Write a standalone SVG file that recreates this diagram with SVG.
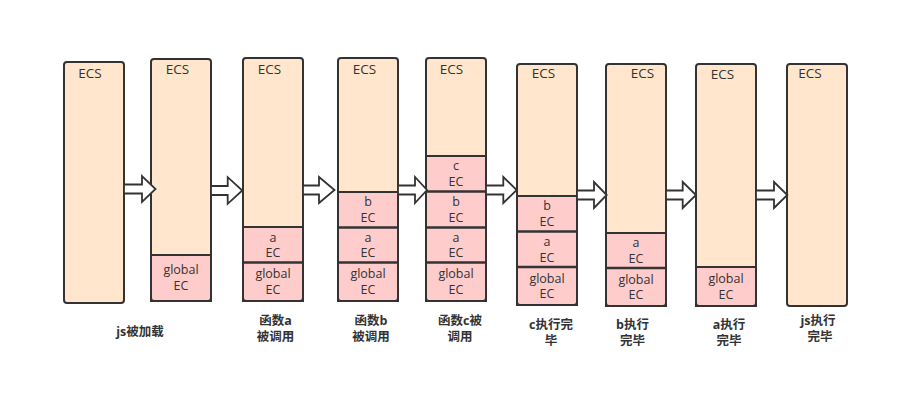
<svg xmlns="http://www.w3.org/2000/svg" width="916" height="415" viewBox="0 0 916 415">
<style>
.ecs{fill:#FFE6CC;stroke:none}
.frame{fill:none;stroke:#333333;stroke-width:2}
.ec{fill:#FFCCCC;stroke:#333333;stroke-width:2}
.div{stroke:#333333;stroke-width:2.5}
.t{font-family:"Open Sans","Noto Sans CJK SC",sans-serif;font-size:13.5px;fill:#333333}
.e{font-family:"Open Sans","Noto Sans CJK SC",sans-serif;font-size:12.5px;fill:#333333;text-anchor:middle}
.lb{font-family:"Open Sans","Noto Sans CJK SC",sans-serif;font-size:12.5px;font-weight:bold;fill:#333333;text-anchor:middle}
.arr{fill:#ffffff;stroke:#333333;stroke-width:1.8;stroke-linejoin:miter}
</style>
<rect width="916" height="415" fill="#ffffff"/>

<g id="stack1">
<rect class="ecs" x="64" y="62" width="60" height="241" rx="3"/>
<rect class="frame" x="64" y="62" width="60" height="241" rx="3"/>
<text class="t" x="90" y="78" text-anchor="middle">ECS</text>
</g>

<g id="stack2">
<rect class="ecs" x="151" y="59" width="60" height="242" rx="3"/>
<rect class="ec" x="151" y="255" width="60" height="46"/>
<rect class="frame" x="151" y="59" width="60" height="242" rx="3"/>
<text class="t" x="177.5" y="73.5" text-anchor="middle">ECS</text>
<text class="e" x="181" y="274">global</text><text class="e" x="181" y="289.5">EC</text>
</g>

<g id="stack3">
<rect class="ecs" x="243" y="58" width="60" height="243" rx="3"/>
<rect class="ec" x="243" y="227" width="60" height="74"/>
<line class="div" x1="243" y1="262.5" x2="303" y2="262.5"/>
<rect class="frame" x="243" y="58" width="60" height="243" rx="3"/>
<text class="t" x="269.5" y="73.5" text-anchor="middle">ECS</text>
<text class="e" x="273" y="241.5">a</text><text class="e" x="273" y="257">EC</text>
<text class="e" x="273" y="278">global</text><text class="e" x="273" y="293.5">EC</text>
</g>

<g id="stack4">
<rect class="ecs" x="338" y="58" width="60" height="243" rx="3"/>
<rect class="ec" x="338" y="192" width="60" height="109"/>
<line class="div" x1="338" y1="227.5" x2="398" y2="227.5"/>
<line class="div" x1="338" y1="262.5" x2="398" y2="262.5"/>
<rect class="frame" x="338" y="58" width="60" height="243" rx="3"/>
<text class="t" x="364.5" y="73.5" text-anchor="middle">ECS</text>
<text class="e" x="368" y="206">b</text><text class="e" x="368" y="221.5">EC</text>
<text class="e" x="368" y="241.5">a</text><text class="e" x="368" y="257">EC</text>
<text class="e" x="368" y="278">global</text><text class="e" x="368" y="293.5">EC</text>
</g>

<g id="stack5">
<rect class="ecs" x="426" y="58" width="60" height="243" rx="3"/>
<rect class="ec" x="426" y="156" width="60" height="145"/>
<line class="div" x1="426" y1="191.5" x2="486" y2="191.5"/>
<line class="div" x1="426" y1="227.5" x2="486" y2="227.5"/>
<line class="div" x1="426" y1="262.5" x2="486" y2="262.5"/>
<rect class="frame" x="426" y="58" width="60" height="243" rx="3"/>
<text class="t" x="451.5" y="73.5" text-anchor="middle">ECS</text>
<text class="e" x="456" y="170">c</text><text class="e" x="456" y="186">EC</text>
<text class="e" x="456" y="206">b</text><text class="e" x="456" y="221.5">EC</text>
<text class="e" x="456" y="241.5">a</text><text class="e" x="456" y="257">EC</text>
<text class="e" x="456" y="278">global</text><text class="e" x="456" y="293.5">EC</text>
</g>

<g id="stack6">
<rect class="ecs" x="517" y="64" width="60" height="241" rx="3"/>
<rect class="ec" x="517" y="196" width="60" height="109"/>
<line class="div" x1="517" y1="231.5" x2="577" y2="231.5"/>
<line class="div" x1="517" y1="267" x2="577" y2="267"/>
<rect class="frame" x="517" y="64" width="60" height="241" rx="3"/>
<text class="t" x="543.5" y="77.5" text-anchor="middle">ECS</text>
<text class="e" x="547" y="210">b</text><text class="e" x="547" y="225.5">EC</text>
<text class="e" x="547" y="246">a</text><text class="e" x="547" y="261.5">EC</text>
<text class="e" x="547" y="282.5">global</text><text class="e" x="547" y="298">EC</text>
</g>

<g id="stack7">
<rect class="ecs" x="606" y="64" width="60" height="242" rx="3"/>
<rect class="ec" x="606" y="233" width="60" height="73"/>
<line class="div" x1="606" y1="268" x2="666" y2="268"/>
<rect class="frame" x="606" y="64" width="60" height="242" rx="3"/>
<text class="t" x="642.5" y="77.5" text-anchor="middle">ECS</text>
<text class="e" x="636" y="247">a</text><text class="e" x="636" y="262.5">EC</text>
<text class="e" x="636" y="283.5">global</text><text class="e" x="636" y="299">EC</text>
</g>

<g id="stack8">
<rect class="ecs" x="696" y="64" width="60" height="242" rx="3"/>
<rect class="ec" x="696" y="267" width="60" height="39"/>
<rect class="frame" x="696" y="64" width="60" height="242" rx="3"/>
<text class="t" x="722.5" y="78.5" text-anchor="middle">ECS</text>
<text class="e" x="726" y="283">global</text><text class="e" x="726" y="298.5">EC</text>
</g>

<g id="stack9">
<rect class="ecs" x="787" y="64" width="60" height="242" rx="3"/>
<rect class="frame" x="787" y="64" width="60" height="242" rx="3"/>
<text class="t" x="810" y="78" text-anchor="middle">ECS</text>
</g>

<g id="connectors">
<polygon class="arr" points="124,184.5 142,184.5 142,176 155.5,189 142,202 142,193.5 124,193.5"/>
<polygon class="arr" points="211,186 227.7,186 227.7,177.2 242.3,190.5 227.7,203.8 227.7,195 211,195"/>
<polygon class="arr" points="303,185.5 319,185.5 319,177 334.5,190 319,203 319,194.5 303,194.5"/>
<polygon class="arr" points="398,185.5 415,185.5 415,177 427,190 415,203 415,194.5 398,194.5"/>
<polygon class="arr" points="486,185.5 503.3,185.5 503.3,177 516.7,190 503.3,203 503.3,194.5 486,194.5"/>
<polygon class="arr" points="577,190.5 594,190.5 594,182 606.7,195 594,208 594,199.5 577,199.5"/>
<polygon class="arr" points="666,190.5 682.7,190.5 682.7,182 696,195 682.7,208 682.7,199.5 666,199.5"/>
<polygon class="arr" points="756,190.5 774,190.5 774,182 787.3,195 774,208 774,199.5 756,199.5"/>
</g>

<g id="labels">
<text class="lb" x="140" y="336">js被加载</text>
<text class="lb" x="275.5" y="325">函数a</text><text class="lb" x="275.5" y="341">被调用</text>
<text class="lb" x="371" y="325">函数b</text><text class="lb" x="371" y="341">被调用</text>
<text class="lb" x="460" y="325">函数c被</text><text class="lb" x="460" y="341">调用</text>
<text class="lb" x="551" y="329">c执行完</text><text class="lb" x="551" y="345">毕</text>
<text class="lb" x="632.5" y="329">b执行</text><text class="lb" x="632.5" y="345">完毕</text>
<text class="lb" x="729" y="329">a执行</text><text class="lb" x="729" y="345">完毕</text>
<text class="lb" x="818" y="325">js执行</text><text class="lb" x="820" y="341">完毕</text>
</g>
</svg>
